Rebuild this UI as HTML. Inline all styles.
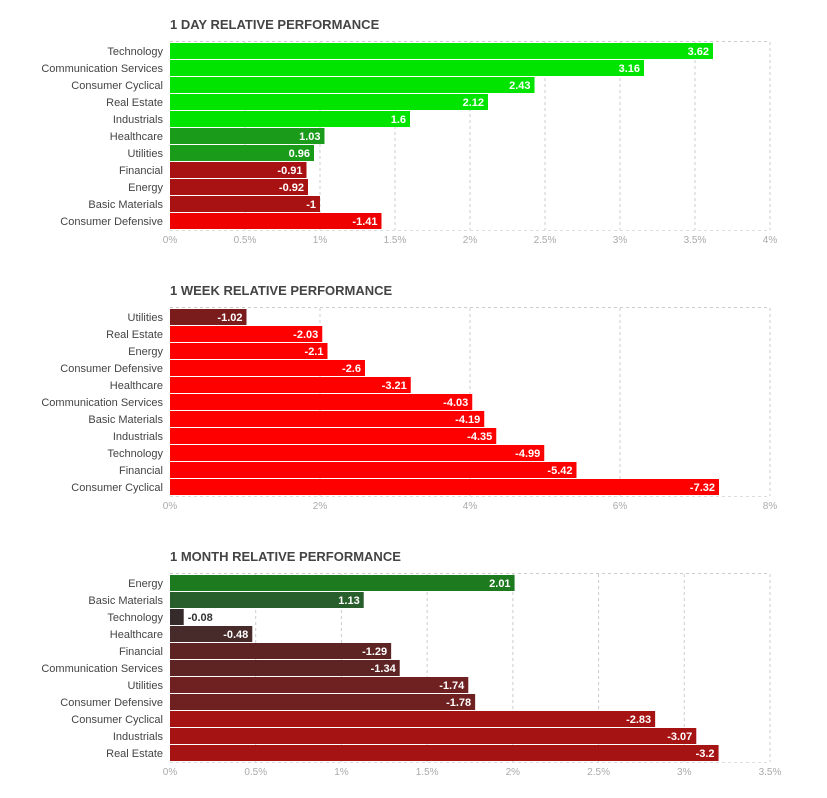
<!DOCTYPE html>
<html><head><meta charset="utf-8"><style>
body{margin:0;background:#fff;width:827px;height:793px;overflow:hidden;font-family:"Liberation Sans",sans-serif}
svg text{font-family:"Liberation Sans",sans-serif}
</style></head><body>
<svg id="svg" width="827" height="793"></svg>
<script>
const c1Cats=["Technology","Communication Services","Consumer Cyclical","Real Estate","Industrials","Healthcare","Utilities","Financial","Energy","Basic Materials","Consumer Defensive"];
const c1Vals=[3.62,3.16,2.43,2.12,1.6,1.03,0.96,-0.91,-0.92,-1,-1.41];
const c1Ticks=[0,0.5,1,1.5,2,2.5,3,3.5,4];
const c2Cats=["Utilities","Real Estate","Energy","Consumer Defensive","Healthcare","Communication Services","Basic Materials","Industrials","Technology","Financial","Consumer Cyclical"];
const c2Vals=[-1.02,-2.03,-2.1,-2.6,-3.21,-4.03,-4.19,-4.35,-4.99,-5.42,-7.32];
const c2Ticks=[0,2,4,6,8];
const c3Cats=["Energy","Basic Materials","Technology","Healthcare","Financial","Communication Services","Utilities","Consumer Defensive","Consumer Cyclical","Industrials","Real Estate"];
const c3Vals=[2.01,1.13,-0.08,-0.48,-1.29,-1.34,-1.74,-1.78,-2.83,-3.07,-3.2];
const c3Ticks=[0,0.5,1,1.5,2,2.5,3,3.5];
const NS="http://www.w3.org/2000/svg";
const svg=document.getElementById('svg');
function mk(t,a,p){const e=document.createElementNS(NS,t);for(const k in a)e.setAttribute(k,a[k]);(p||svg).appendChild(e);return e;}
function col1(v){return v>=1.5?"#00e400":v>0?"#1a9c1a":v>-1.2?"#a81212":"#ee0000";}
function col2(v){return v>-1.5?"#7a1c1c":"#ff0000";}
function col3(v){return v>1.5?"#1e7a1e":v>0.5?"#275e2b":v>-0.2?"#362b2b":v>-1?"#472a2a":v>-1.5?"#5e2424":v>-2?"#6f2020":"#a51313";}
function chart(name,title,top,cats,vals,ticks,col){
  const g=mk('g',{});
  
  
  const x0=170,x1=770,max=ticks[ticks.length-1];
  const xs=v=>x0+(x1-x0)*Math.abs(v)/max;
  const y0=top+20,row=17,y1=y0+cats.length*row;
  const t=mk('text',{x:170,y:top+6,'font-size':13,'font-weight':'bold',fill:'#444'},g);t.textContent=title;
  
  
  mk('line',{x1:x0,x2:x1,y1:y0-1.5,y2:y0-1.5,stroke:'#ccc','stroke-dasharray':'3,3'},g);
  ticks.forEach(tk=>{
    const x=xs(tk);
    if(tk>0)mk('line',{x1:x,x2:x,y1:y0-1,y2:y1,stroke:'#ccc','stroke-dasharray':'3,3'},g);
    const l=mk('text',{x:x,y:y1+13,'font-size':10,fill:'#aaa','text-anchor':'middle'},g);l.textContent=tk+'%';
    
    
  });
  cats.forEach((c,i)=>{
    const y=y0+i*row,v=vals[i],w=xs(v)-x0;
    const lab=mk('text',{x:163,y:y+12,'font-size':11,fill:'#444','text-anchor':'end'},g);lab.textContent=c;
    
    
    const r=mk('rect',{x:x0,y:y,width:w,height:16,fill:col(v)},g);
    
    
    const inside=w>30;
    const vt=mk('text',{x:inside?x0+w-4:x0+w+4,y:y+12,'font-size':11,'font-weight':'bold',fill:inside?'#fff':'#333','text-anchor':inside?'end':'start'},g);
    vt.textContent=String(v);
    
    
  });
  mk('line',{x1:x0,x2:x1,y1:y1+0.5,y2:y1+0.5,stroke:'#ddd','stroke-dasharray':'3,3'},g);
}
chart('day-chart','1 DAY RELATIVE PERFORMANCE',23,c1Cats,c1Vals,c1Ticks,col1);
chart('week-chart','1 WEEK RELATIVE PERFORMANCE',289,c2Cats,c2Vals,c2Ticks,col2);
chart('month-chart','1 MONTH RELATIVE PERFORMANCE',555,c3Cats,c3Vals,c3Ticks,col3);
</script>
</body></html>
